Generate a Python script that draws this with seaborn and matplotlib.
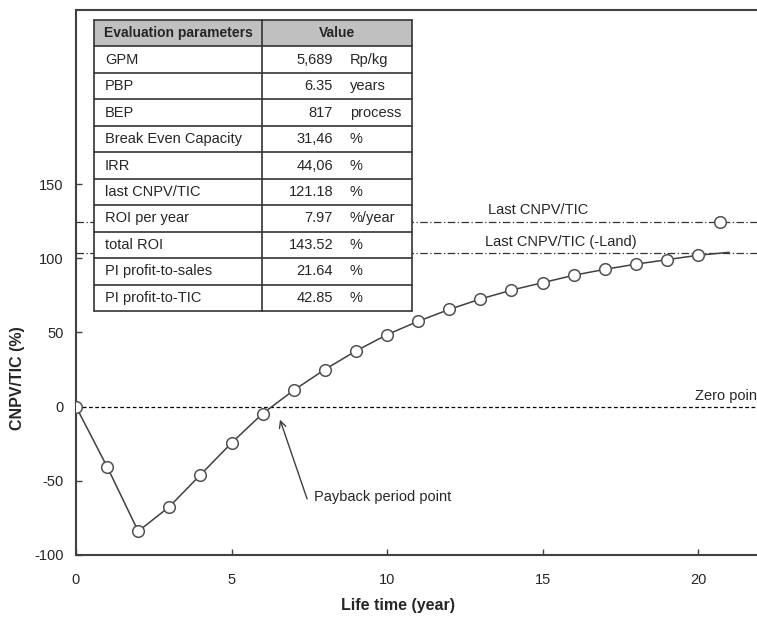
import numpy as np
import pandas as pd
import seaborn as sns
import matplotlib.pyplot as plt
from matplotlib.patches import Rectangle

sns.set_theme(style='white')
plt.rcParams['font.family'] = ['Liberation Sans', 'DejaVu Sans']
plt.rcParams['axes.unicode_minus'] = False

# CNPV/TIC per year of plant life
years = [0, 1, 2, 3, 4, 5, 6, 7, 8, 9, 10, 11, 12, 13, 14, 15, 16, 17, 18, 19, 20]
cnpv_tic = [0, -40.5, -84, -67.5, -46, -24.5, -4.7, 11, 25, 37.5, 48.5,
            57.5, 65.5, 72.5, 78.5, 83.5, 88.5, 92.5, 96, 99, 102]
# curve extends a little past the last year
curve_years = years + [21]
curve_values = cnpv_tic + [104]
last_year = [20.7]
last_value = [124.7]
last_land = 103.5

params = ['GPM', 'PBP', 'BEP', 'Break Even Capacity', 'IRR', 'last CNPV/TIC',
          'ROI per year', 'total ROI', 'PI profit-to-sales', 'PI profit-to-TIC']
values = ['5,689', '6.35', '817', '31,46', '44,06', '121.18',
          '7.97', '143.52', '21.64', '42.85']
units = ['Rp/kg', 'years', 'process', '%', '%', '%', '%/year', '%', '%', '%']

W, H = 757, 621
fig = plt.figure(figsize=(W / 100, H / 100), dpi=100)
ax = fig.add_axes([76 / W, (H - 555) / H, 715.3 / W, 545 / H])

grey = '#404040'
df = pd.DataFrame({'year': curve_years, 'val': curve_values})
sns.lineplot(data=df, x='year', y='val', ax=ax, color=grey, lw=1.1, zorder=3)
pts = pd.DataFrame({'year': years + last_year, 'val': cnpv_tic + last_value})
sns.scatterplot(data=pts, x='year', y='val', ax=ax, s=70, facecolor='white',
                edgecolor='#505050', linewidth=1.1, zorder=4)

ax.axhline(0, color='black', lw=0.9, ls=(0, (3, 2)), zorder=2)
ax.axhline(last_value[0], color='#333333', lw=0.9, ls=(0, (6, 2, 1, 2)), zorder=2)
ax.axhline(last_land, color='#333333', lw=0.9, ls=(0, (6, 2, 1, 2)), zorder=2)

ax.text(19.9, 2.5, 'Zero point', fontsize=10.5, va='bottom', ha='left', clip_on=False)
ax.text(13.25, 127.5, 'Last CNPV/TIC', fontsize=10.5, va='bottom')
ax.text(13.15, 106, 'Last CNPV/TIC (-Land)', fontsize=10.5, va='bottom')
ax.annotate('', xy=(6.53, -7), xytext=(7.46, -64),
            arrowprops=dict(arrowstyle='->', color=grey, lw=1))
ax.text(7.65, -61, 'Payback period point', fontsize=10.5, va='center')

ax.set_xlim(0, 23)
ax.set_ylim(-100, 267.3)
ax.set_xticks([0, 5, 10, 15, 20])
ax.set_yticks([-100, -50, 0, 50, 100, 150])
ax.tick_params(direction='in', length=4, width=1, color=grey, labelsize=10.5,
               left=True, bottom=True)
ax.tick_params(axis='x', pad=13)
ax.tick_params(axis='y', pad=9)
for s in ['left', 'bottom', 'top']:
    ax.spines[s].set_color(grey)
    ax.spines[s].set_linewidth(1.5)
ax.spines['right'].set_visible(False)
ax.set_xlabel('Life time (year)', fontsize=11.5, fontweight='bold')
ax.set_ylabel('CNPV/TIC (%)', fontsize=11.5, fontweight='bold')
ax.xaxis.set_label_coords((398 - 76) / 715.3, -(598 - 555) / 545)
ax.yaxis.set_label_coords(-(76 - 25) / 715.3, (555 - 378) / 545)

# parameter table drawn in its own pixel-unit axes
tw, th = 318, 291
tax = fig.add_axes([94 / W, (H - 311) / H, tw / W, th / H], zorder=5)
tax.set_xlim(0, tw)
tax.set_ylim(th, 0)
tax.axis('off')
rh = th / 11
tax.add_patch(Rectangle((0, 0), tw, th, facecolor='white', edgecolor='none'))
tax.add_patch(Rectangle((0, 0), tw, rh, facecolor='#c0c0c0', edgecolor='none'))
for i in range(12):
    tax.plot([0, tw], [i * rh, i * rh], color='#333333', lw=1.2, clip_on=False)
for xv in [0, 168, tw]:
    tax.plot([xv, xv], [0, th], color='#333333', lw=1.2, clip_on=False)
tax.text(10, rh / 2, 'Evaluation parameters', fontsize=10, fontweight='bold', va='center')
tax.text(243, rh / 2, 'Value', fontsize=10, fontweight='bold', va='center', ha='center')
for i, (p, v, u) in enumerate(zip(params, values, units)):
    yc = (i + 1.5) * rh
    tax.text(11, yc, p, fontsize=10.5, va='center')
    tax.text(239, yc, v, fontsize=10.5, va='center', ha='right')
    tax.text(256, yc, u, fontsize=10.5, va='center', ha='left')

fig.savefig('out.png', dpi=100)
